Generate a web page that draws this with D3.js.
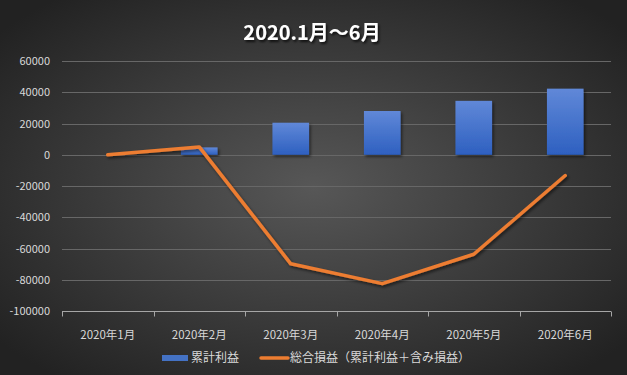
<!DOCTYPE html>
<html>
<head>
<meta charset="utf-8">
<script src="https://cdnjs.cloudflare.com/ajax/libs/d3/7.8.5/d3.min.js"></script>
<style>
  body { margin: 0; background: #2a2a2a; }
  svg { display: block; font-family: "Noto Sans CJK JP", "Noto Sans", sans-serif; }
</style>
</head>
<body>
<div id="chart"></div>
<script>
// data
var months = ["2020年1月", "2020年2月", "2020年3月", "2020年4月", "2020年5月", "2020年6月"];
var cumProfit = [0, 4700, 20500, 28000, 34500, 42300];
var totalPL = [0, 5000, -69800, -82500, -63700, -13300];
var yTicks = [60000, 40000, 20000, 0, -20000, -40000, -60000, -80000, -100000];
var seriesNames = ["累計利益", "総合損益（累計利益＋含み損益）"];
var titleText = "2020.1月～6月";

var W = 627, H = 375;
var margin = { top: 61, right: 16, bottom: 64, left: 62 };

var svg = d3.select("#chart")
    .append("svg")
    .attr("width", W)
    .attr("height", H);

var defs = svg.append("defs");

// background gradient
var bg = defs.append("radialGradient").attr("id", "bg")
    .attr("cx", "50%").attr("cy", "50%").attr("r", "65%");
bg.append("stop").attr("offset", "0%").attr("stop-color", "#575757");
bg.append("stop").attr("offset", "100%").attr("stop-color", "#222222");

// bar gradient
var barGrad = defs.append("linearGradient").attr("id", "barGrad")
    .attr("x1", 0).attr("y1", 0).attr("x2", 0).attr("y2", 1);
barGrad.append("stop").attr("offset", "0%").attr("stop-color", "#6088d8");
barGrad.append("stop").attr("offset", "100%").attr("stop-color", "#2e60c0");

// shadow
var sh = defs.append("filter").attr("id", "shadow")
    .attr("x", "-20%").attr("y", "-20%").attr("width", "150%").attr("height", "150%");
sh.append("feDropShadow").attr("dx", 1.5).attr("dy", 2).attr("stdDeviation", 1.5)
    .attr("flood-color", "#000").attr("flood-opacity", 0.55);

var tsh = defs.append("filter").attr("id", "tshadow")
    .attr("x", "-10%").attr("y", "-30%").attr("width", "130%").attr("height", "180%");
tsh.append("feDropShadow").attr("dx", 1.5).attr("dy", 2).attr("stdDeviation", 1.2)
    .attr("flood-color", "#000").attr("flood-opacity", 0.7);

svg.append("rect").attr("width", W).attr("height", H).attr("fill", "url(#bg)");

// title
svg.append("text")
    .attr("x", 312).attr("y", 40)
    .attr("text-anchor", "middle")
    .attr("fill", "#ffffff")
    .attr("font-size", "20px")
    .attr("font-weight", "bold")
    .attr("filter", "url(#tshadow)")
    .text(titleText);

// scales
var x = d3.scaleBand()
    .domain(months)
    .range([margin.left, W - margin.right])
    .paddingInner(0.6)
    .paddingOuter(0.3);

var y = d3.scaleLinear()
    .domain([-100000, 60000])
    .range([H - margin.bottom, margin.top]);

// gridlines
svg.append("g")
    .selectAll("line")
    .data(yTicks.filter(function (d) { return d !== -100000; }))
    .enter()
    .append("line")
    .attr("x1", margin.left).attr("x2", W - margin.right)
    .attr("y1", function (d) { return Math.round(y(d)) + 0.5; })
    .attr("y2", function (d) { return Math.round(y(d)) + 0.5; })
    .attr("stroke", "#676767")
    .attr("stroke-width", 1);

// Y labels
svg.append("g")
    .selectAll("text")
    .data(yTicks)
    .enter()
    .append("text")
    .attr("x", 50)
    .attr("y", function (d) { return y(d) + 4; })
    .attr("text-anchor", "end")
    .attr("fill", "#d9d9d9")
    .attr("font-size", "11px")
    .text(function (d) { return d; });

// X axis (bottom at -100000)
var axisY = Math.round(y(-100000)) + 0.5;
svg.append("line")
    .attr("x1", margin.left).attr("x2", W - margin.right)
    .attr("y1", axisY).attr("y2", axisY)
    .attr("stroke", "#a6a6a6");

var step = x.step();
svg.append("g")
    .selectAll("line")
    .data(d3.range(months.length + 1))
    .enter()
    .append("line")
    .attr("x1", function (i) { return Math.round(margin.left + i * step) + 0.5; })
    .attr("x2", function (i) { return Math.round(margin.left + i * step) + 0.5; })
    .attr("y1", axisY).attr("y2", axisY + 5)
    .attr("stroke", "#a6a6a6");

svg.append("g")
    .selectAll("text")
    .data(months)
    .enter()
    .append("text")
    .attr("x", function (d) { return x(d) + x.bandwidth() / 2; })
    .attr("y", 339)
    .attr("text-anchor", "middle")
    .attr("fill", "#d9d9d9")
    .attr("font-size", "11.5px")
    .text(function (d) { return d; });

// bars
svg.append("g")
    .selectAll("rect")
    .data(months)
    .enter()
    .append("rect")
    .attr("x", function (d) { return x(d); })
    .attr("width", x.bandwidth())
    .attr("y", function (d, i) { return y(Math.max(0, cumProfit[i])); })
    .attr("height", function (d, i) { return Math.abs(y(cumProfit[i]) - y(0)); })
    .attr("fill", "url(#barGrad)")
    .attr("filter", "url(#shadow)");

// line
var line = d3.line()
    .x(function (d, i) { return x(months[i]) + x.bandwidth() / 2; })
    .y(function (d) { return y(d); });

svg.append("path")
    .datum(totalPL)
    .attr("d", line)
    .attr("fill", "none")
    .attr("stroke", "#ed7d31")
    .attr("stroke-width", 3.5)
    .attr("stroke-linejoin", "round")
    .attr("stroke-linecap", "round")
    .attr("filter", "url(#shadow)");

// legend
var legend = svg.append("g").attr("class", "legend");
legend.append("rect")
    .attr("x", 162).attr("y", 355)
    .attr("width", 26).attr("height", 6)
    .attr("fill", "#4472c4");
legend.append("text")
    .attr("x", 191).attr("y", 362)
    .attr("fill", "#d9d9d9")
    .attr("font-size", "12px")
    .text(seriesNames[0]);
legend.append("line")
    .attr("x1", 261).attr("x2", 288)
    .attr("y1", 358).attr("y2", 358)
    .attr("stroke", "#ed7d31")
    .attr("stroke-width", 3.5)
    .attr("stroke-linecap", "round");
legend.append("text")
    .attr("x", 290).attr("y", 362)
    .attr("fill", "#d9d9d9")
    .attr("font-size", "12px")
    .text(seriesNames[1]);
</script>
</body>
</html>
